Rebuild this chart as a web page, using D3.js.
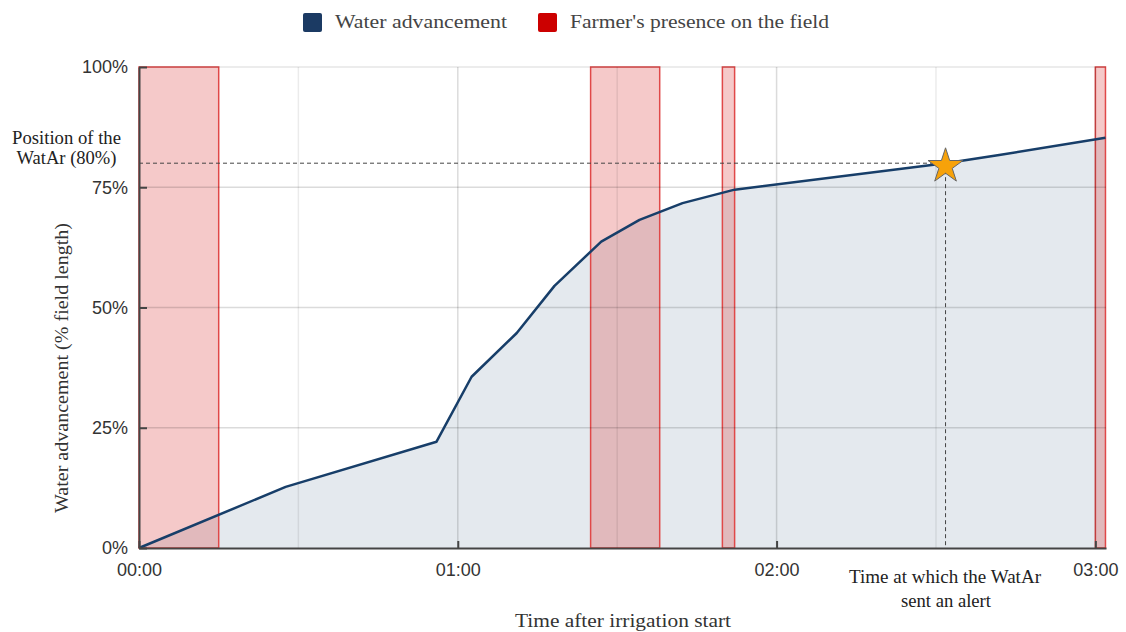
<!DOCTYPE html>
<html>
<head>
<meta charset="utf-8">
<script src="https://cdn.jsdelivr.net/npm/d3@7"></script>
<style>
  body { margin: 0; background: #fff; }
  svg { display: block; }
</style>
</head>
<body>
<div id="chart"></div>
<script>
// water advancement, minutes after irrigation start vs % of field length
const times   = [0, 27.6, 56, 62.6, 71.1, 78.2, 87, 94.2, 102.3, 112.1, 151.8, 161.9, 181.9];
const advance = [0, 12.7, 22.1, 35.6, 44.7, 54.5, 63.7, 68.2, 71.7, 74.5, 80, 81.7, 85.3];

// farmer on the field (minutes)
const presenceStart = [0, 85, 109.8, 180];
const presenceEnd   = [15, 98, 112.1, 181.9];

const yTicks = [0, 25, 50, 75, 100];
const xTicks = [0, 60, 120, 180];
const xLabels = ["00:00", "01:00", "02:00", "03:00"];
const minorTicks = [30, 90, 150];

const sensorPos = 80;      // WatAr position (%)
const alertTime = 151.8;   // minutes

var margin = {top: 67, right: 20, bottom: 84, left: 139},
  width = 1126 - margin.left - margin.right,
  height = 632 - margin.top - margin.bottom;

var svgRoot = d3.select("#chart")
  .append("svg")
    .attr("width", 1126)
    .attr("height", 632);

var svg = svgRoot.append("g")
    .attr("transform", "translate(" + margin.left + "," + margin.top + ")");

var x = d3.scaleLinear().domain([0, 182]).range([0, width]);
var y = d3.scaleLinear().domain([0, 100]).range([height, 0]);

var data = times.map((t, i) => ({t: t, v: advance[i]}));

// area under the curve
svg.append("path")
  .datum(data)
  .attr("fill", "#e4e9ee")
  .attr("d", d3.area().x(d => x(d.t)).y0(y(0)).y1(d => y(d.v)));

// presence bands
var bands = presenceStart.map((s, i) => ({s: s, e: presenceEnd[i]}));
svg.selectAll("rect.band")
  .data(bands)
  .enter()
  .append("rect")
    .attr("class", "band")
    .attr("x", d => x(d.s))
    .attr("y", y(100))
    .attr("width", d => x(d.e) - x(d.s))
    .attr("height", y(0) - y(100))
    .attr("fill", "rgba(220,60,60,0.28)")
    .attr("stroke", "#e04848")
    .attr("stroke-width", 1.5);

// grid
svg.selectAll("line.hgrid")
  .data(yTicks.filter(d => d > 0))
  .enter()
  .append("line")
    .attr("x1", 0).attr("x2", width)
    .attr("y1", d => y(d)).attr("y2", d => y(d))
    .attr("stroke", d => d === 100 ? "rgba(0,0,0,0.1)" : "rgba(0,0,0,0.14)")
    .attr("stroke-width", 1.5);

svg.selectAll("line.vgrid")
  .data(xTicks.filter(d => d > 0).concat(minorTicks))
  .enter()
  .append("line")
    .attr("y1", 0).attr("y2", height)
    .attr("x1", d => x(d)).attr("x2", d => x(d))
    .attr("stroke", d => d % 60 === 0 ? "rgba(0,0,0,0.14)" : "rgba(0,0,0,0.08)")
    .attr("stroke-width", 1.5);

// water advancement line
svg.append("path")
  .datum(data)
  .attr("fill", "none")
  .attr("stroke", "#173e69")
  .attr("stroke-width", 2.5)
  .attr("stroke-linejoin", "round")
  .attr("d", d3.line().x(d => x(d.t)).y(d => y(d.v)));

// dashed guides
svg.append("line")
  .attr("x1", 0).attr("x2", x(alertTime))
  .attr("y1", y(sensorPos)).attr("y2", y(sensorPos))
  .attr("stroke", "#444").attr("stroke-width", 1)
  .attr("stroke-dasharray", "4,3");
svg.append("line")
  .attr("x1", x(alertTime)).attr("x2", x(alertTime))
  .attr("y1", y(sensorPos)).attr("y2", y(0))
  .attr("stroke", "#444").attr("stroke-width", 1)
  .attr("stroke-dasharray", "4,3");

// alert star
svg.append("path")
  .attr("d", d3.symbol().type(d3.symbolStar).size(380)())
  .attr("transform", "translate(" + x(alertTime) + "," + (y(sensorPos) + 3) + ")")
  .attr("fill", "#f7a20a")
  .attr("stroke", "#666")
  .attr("stroke-width", 1);

// axes
var yAxis = svg.append("g")
  .call(d3.axisLeft(y).tickValues(yTicks).tickFormat(d => d + "%").tickSizeInner(-8).tickSizeOuter(0).tickPadding(11));
var xAxis = svg.append("g")
  .attr("transform", "translate(0," + height + ")")
  .call(d3.axisBottom(x).tickValues(xTicks).tickFormat((d, i) => xLabels[i]).tickSizeInner(-7).tickSizeOuter(0).tickPadding(15));

[yAxis, xAxis].forEach(a => {
  a.select(".domain").attr("stroke", "#444").attr("stroke-width", 2);
  a.selectAll(".tick line").attr("stroke", "#444").attr("stroke-width", 2);
  a.selectAll(".tick text")
    .attr("fill", "#333")
    .style("font-family", "Liberation Sans, Arial, sans-serif")
    .style("font-size", "18px");
});

// titles
var serif = "Liberation Serif, Times New Roman, serif";

function label(parent, txt, px, py, len, size) {
  return parent.append("text")
    .attr("x", px).attr("y", py)
    .attr("text-anchor", "middle")
    .attr("textLength", len).attr("lengthAdjust", "spacingAndGlyphs")
    .style("font-family", serif).style("font-size", size + "px")
    .attr("fill", "#333")
    .text(txt);
}

label(svgRoot, "Time after irrigation start", 623, 627, 216, 19);

label(svgRoot.append("g").attr("transform", "translate(68,368) rotate(-90)"),
  "Water advancement (% field length)", 0, 0, 290, 19);

// annotations
label(svgRoot, "Position of the", 66.5, 144, 109, 19).attr("fill", "#222");
label(svgRoot, "WatAr (80%)", 66.5, 164, 100, 19).attr("fill", "#222");
label(svgRoot, "Time at which the WatAr", 945, 583, 192, 19).attr("fill", "#222");
label(svgRoot, "sent an alert", 946, 607, 90, 19).attr("fill", "#222");

// legend
var legendItems = ["Water advancement", "Farmer's presence on the field"];
var legendColors = ["#1b3a63", "#cc0000"];
var legendX = [303, 538];
var legendLen = [172, 259];

var legend = svgRoot.selectAll("g.legend")
  .data(legendItems)
  .enter()
  .append("g")
    .attr("transform", (d, i) => "translate(" + legendX[i] + ",13)");
legend.append("rect")
  .attr("width", 19).attr("height", 19).attr("rx", 2)
  .attr("fill", (d, i) => legendColors[i]);
legend.append("text")
  .attr("x", 32).attr("y", 15)
  .attr("textLength", (d, i) => legendLen[i]).attr("lengthAdjust", "spacingAndGlyphs")
  .style("font-family", serif).style("font-size", "19.5px")
  .attr("fill", "#444")
  .text(d => d);
</script>
</body>
</html>
